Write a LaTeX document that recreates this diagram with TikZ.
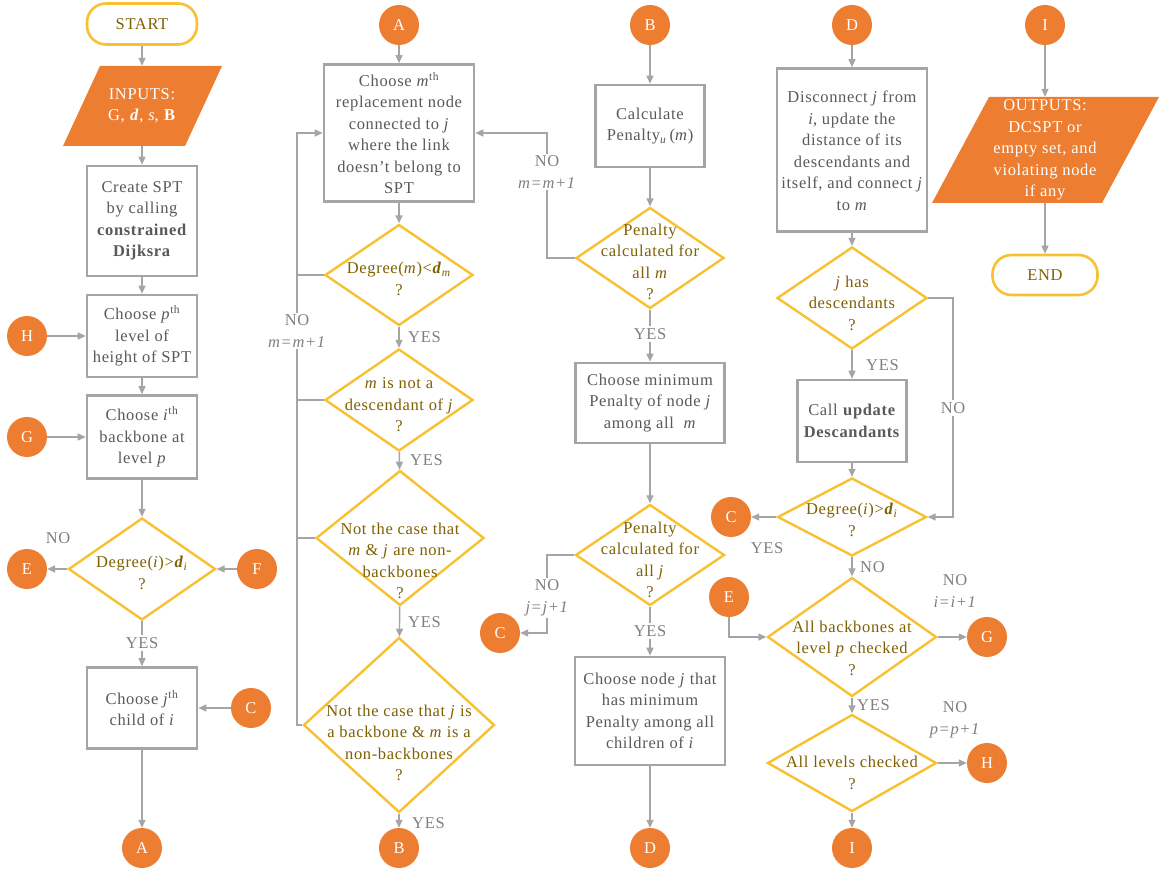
\documentclass[tikz,border=0pt]{standalone}
\usepackage{fontspec}
\setmainfont{Liberation Serif}[LetterSpace=4]
\usetikzlibrary{arrows.meta,shapes.geometric}
\definecolor{flowOrange}{HTML}{ED7D31}
\definecolor{flowYellow}{HTML}{F7C132}
\definecolor{flowGray}{HTML}{A5A5A5}
\definecolor{boxText}{HTML}{595959}
\definecolor{decText}{HTML}{7F6000}
\definecolor{lblText}{HTML}{7F7F7F}
\tikzset{
  base/.style={inner sep=0pt},
  procbox/.style n args={2}{base, draw=flowGray, line width=2.6pt, fill=white,
    minimum width=#1, minimum height=#2, align=center, text=boxText},
  decision/.style n args={2}{base, diamond, draw=flowYellow, line width=2.4pt,
    minimum width=#1, minimum height=#2},
  term/.style n args={2}{base, draw=flowYellow, line width=2.6pt, rounded corners=19pt,
    minimum width=#1, minimum height=#2, text=decText},
  connector/.style={base, circle, fill=flowOrange, minimum size=40pt, text=white},
  boxtext/.style={base, align=center, text=boxText},
  dectext/.style={base, align=center, text=decText},
  iotext/.style={base, align=center, text=white},
  lbl/.style={base, align=center, text=lblText},
  lblon/.style={lbl, fill=white, inner sep=2pt},
  flow/.style={draw=flowGray, line width=1.4pt},
  flowarrow/.style={flow, -{Triangle[length=8pt,width=7pt]}},
}
\begin{document}
\begin{tikzpicture}[x=1pt,y=-1pt,font=\fontsize{16.5}{21.5}\selectfont]
\useasboundingbox (0,0) rectangle (1165,874);
\fill[white] (0,0) rectangle (1165,874);

% ---------------- first column: set-up and choice of i, j
\node[term={110}{41}] (start) at (142,24) {START};
\fill[flowOrange] (100,66) -- (222,66) -- (185,146) -- (63,146) -- cycle;
\node[iotext, minimum width=120, minimum height=80] (inp) at (142,106)
  {INPUTS:\\G, \textbf{\textit{d}}, \textit{s}, \textbf{B}};
\node[procbox={110}{110}] (spt) at (142,221)
  {Create SPT\\by calling\\\textbf{constrained}\\\textbf{Dijksra}};
\node[procbox={110}{82}] (lvl) at (142,336)
  {Choose \textit{p}\textsuperscript{th}\\level of\\height of SPT};
\node[procbox={110}{83}] (bb) at (142,437)
  {Choose \textit{i}\textsuperscript{th}\\backbone at\\level \textit{p}};
\node[decision={147}{102}] (deg1) at (142,569) {};
\node[dectext] (deg1T) at (142,573)
  {Degree(\textit{i})>\textbf{\textit{d}}\textsubscript{\textit{i}}\\?};
\node[procbox={110}{81}] (child) at (142,708)
  {Choose \textit{j}\textsuperscript{th}\\child of \textit{i}};
\node[connector] (cA1) at (142,848) {A};
\node[connector] (cH1) at (27,336) {H};
\node[connector] (cG1) at (27,437) {G};
\node[connector] (cE1) at (27,569) {E};
\node[connector] (cF1) at (257,569) {F};
\node[connector] (cC1) at (251,708) {C};

\draw[flowarrow] (start) -- (inp);
\draw[flowarrow] (inp) -- (spt);
\draw[flowarrow] (spt) -- (lvl);
\draw[flowarrow] (lvl) -- (bb);
\draw[flowarrow] (bb) -- (deg1);
\draw[flowarrow] (deg1) -- (child);
\draw[flowarrow] (child) -- (cA1);
\draw[flowarrow] (cH1) -- (lvl);
\draw[flowarrow] (cG1) -- (bb);
\draw[flowarrow] (deg1) -- (cE1);
\draw[flowarrow] (cF1) -- (deg1);
\draw[flowarrow] (cC1) -- (child);
\node[lbl] (deg1No) at (58,538) {NO};
\node[lblon] (deg1Yes) at (142,643) {YES};

% ---------------- second column: choice of replacement node m
\node[connector] (cA2) at (399,25) {A};
\node[procbox={150}{137}] (repl) at (399,133)
  {Choose \textit{m}\textsuperscript{th}\\replacement node\\connected to \textit{j}\\where the link\\doesn’t belong to\\SPT};
\node[decision={148}{101}] (q1) at (399,275) {};
\node[dectext] (q1T) at (399,279)
  {Degree(\textit{m})<\textbf{\textit{d}}\textsubscript{\textit{m}}\\?};
\node[decision={148}{102}] (q2) at (399,400) {};
\node[dectext] (q2T) at (399,405)
  {\textit{m} is not a\\descendant of \textit{j}\\?};
\node[decision={168}{135}] (q3) at (400,538) {};
\node[dectext] (q3T) at (400,561)
  {Not the case that\\\textit{m} \& \textit{j} are non-\\backbones\\?};
\node[decision={191}{175}] (q4) at (399,725) {};
\node[dectext] (q4T) at (399,743)
  {Not the case that \textit{j} is\\a backbone \& \textit{m} is a\\non-backbones\\?};
\node[connector] (cB2) at (399,848) {B};
\coordinate (loopM) at (297,0);

\draw[flowarrow] (cA2) -- (repl);
\draw[flowarrow] (repl) -- (q1);
\draw[flowarrow] (q1) -- (q2);
\draw[flowarrow] (q2) -- (q3);
\draw[flowarrow] (q3) -- (q4);
\draw[flowarrow] (q4) -- (cB2);
\draw[flow] (q1.west) -- (q1.west -| loopM);
\draw[flow] (q2.west) -- (q2.west -| loopM);
\draw[flow] (q3.west) -- (q3.west -| loopM);
\draw[flowarrow] (q4.west) -- (q4.west -| loopM) |- (repl.west);
\node[lblon] (loopMNo) at (297,331) {NO\\\textit{m=m+1}};
\node[lbl, anchor=west] (q1Yes) at (408,337) {YES};
\node[lbl, anchor=west] (q2Yes) at (410,460) {YES};
\node[lbl, anchor=west] (q3Yes) at (408,622) {YES};
\node[lbl, anchor=west] (q4Yes) at (412,823) {YES};

% ---------------- third column: penalties
\node[connector] (cB3) at (650,25) {B};
\node[procbox={109}{82}] (pen) at (650,126)
  {Calculate\\Penalty\textsubscript{\textit{u}}\,(\textit{m})};
\node[decision={148}{101}] (pm) at (650,258) {};
\node[dectext] (pmT) at (650,262)
  {Penalty\\calculated for\\all \textit{m}\\?};
\node[procbox={149}{80}] (minpen) at (650,403)
  {Choose minimum\\Penalty of node \textit{j}\\among all~~\textit{m}};
\node[decision={149}{101}] (pj) at (650,555) {};
\node[dectext] (pjT) at (650,560)
  {Penalty\\calculated for\\all \textit{j}\\?};
\node[procbox={150}{108}] (nodej) at (650,711)
  {Choose node \textit{j} that\\has minimum\\Penalty among all\\children of \textit{i}};
\node[connector] (cD3) at (650,848) {D};
\node[connector] (cC3) at (500,633) {C};
\coordinate (loopP) at (547,0);

\draw[flowarrow] (cB3) -- (pen);
\draw[flowarrow] (pen) -- (pm);
\draw[flowarrow] (pm) -- (minpen);
\draw[flowarrow] (minpen) -- (pj);
\draw[flowarrow] (pj) -- (nodej);
\draw[flowarrow] (nodej) -- (cD3);
\draw[flowarrow] (pm.west) -- (pm.west -| loopP) |- (repl.east);
\draw[flowarrow] (pj.west) -- (pj.west -| loopP) |- (cC3.east);
\node[lblon] (pmNo) at (547,172) {NO\\\textit{m=m+1}};
\node[lblon] (pmYes) at (650,334) {YES};
\node[lblon] (pjNo) at (547,598) {NO\\\textit{j=j+1}};
\node[lblon] (pjYes) at (650,631) {YES};

% ---------------- fourth column: reconnection and level loop
\node[connector] (cD4) at (852,25) {D};
\node[procbox={150}{163}] (disc) at (852,150) {};
\node[boxtext] (discT) at (852,151)
  {Disconnect \textit{j} from\\\textit{i}, update the\\distance of its\\descendants and\\itself, and connect \textit{j}\\to \textit{m}};
\node[decision={150}{102}] (hasd) at (852,298) {};
\node[dectext] (hasdT) at (852,303)
  {\textit{j} has\\descendants\\?};
\node[procbox={109}{82}] (upd) at (852,421)
  {Call \textbf{update}\\\textbf{Descandants}};
\node[decision={149}{78}] (deg2) at (852,517) {};
\node[dectext] (deg2T) at (852,520)
  {Degree(\textit{i})>\textbf{\textit{d}}\textsubscript{\textit{i}}\\?};
\node[decision={169}{119}] (allbb) at (852,637) {};
\node[dectext] (allbbT) at (852,648)
  {All backbones at\\level \textit{p} checked\\?};
\node[decision={169}{97}] (alllv) at (852,763) {};
\node[dectext] (alllvT) at (852,773)
  {All levels checked\\?};
\node[connector] (cC4) at (731,517) {C};
\node[connector] (cE4) at (729,597) {E};
\node[connector] (cG4) at (987,637) {G};
\node[connector] (cH4) at (987,763) {H};
\node[connector] (cI4) at (852,848) {I};
\coordinate (loopD) at (953,0);

\draw[flowarrow] (cD4) -- (disc);
\draw[flowarrow] (disc) -- (hasd);
\draw[flowarrow] (hasd) -- (upd);
\draw[flowarrow] (upd) -- (deg2);
\draw[flowarrow] (hasd.east) -- (hasd.east -| loopD) |- (deg2.east);
\draw[flowarrow] (deg2) -- (cC4);
\draw[flowarrow] (deg2) -- (allbb);
\draw[flowarrow] (cE4) |- (allbb.west);
\draw[flowarrow] (allbb) -- (cG4);
\draw[flowarrow] (allbb) -- (alllv);
\draw[flowarrow] (alllv) -- (cH4);
\draw[flowarrow] (alllv) -- (cI4);
\node[lbl, anchor=west] (hasdYes) at (866,365) {YES};
\node[lblon] (hasdNo) at (953,408) {NO};
\node[lbl] (deg2Yes) at (767,548) {YES};
\node[lbl, anchor=west] (deg2No) at (860,567) {NO};
\node[lbl] (allbbNo) at (955,591) {NO\\\textit{i=i+1}};
\node[lbl, anchor=west] (allbbYes) at (857,705) {YES};
\node[lbl] (alllvNo) at (955,720) {NO\\\textit{p=p+1}};

% ---------------- fifth column: outputs
\node[connector] (cI5) at (1045,25) {I};
\fill[flowOrange] (989,97) -- (1159,97) -- (1102,203) -- (932,203) -- cycle;
\node[iotext, minimum width=120, minimum height=106] (outp) at (1045,150)
  {OUTPUTS:\\DCSPT or\\empty set, and\\violating node\\if any};
\node[term={105}{40}] (finish) at (1045,275) {END};
\draw[flowarrow] (cI5) -- (outp);
\draw[flowarrow] (outp) -- (finish);
\end{tikzpicture}
\end{document}
